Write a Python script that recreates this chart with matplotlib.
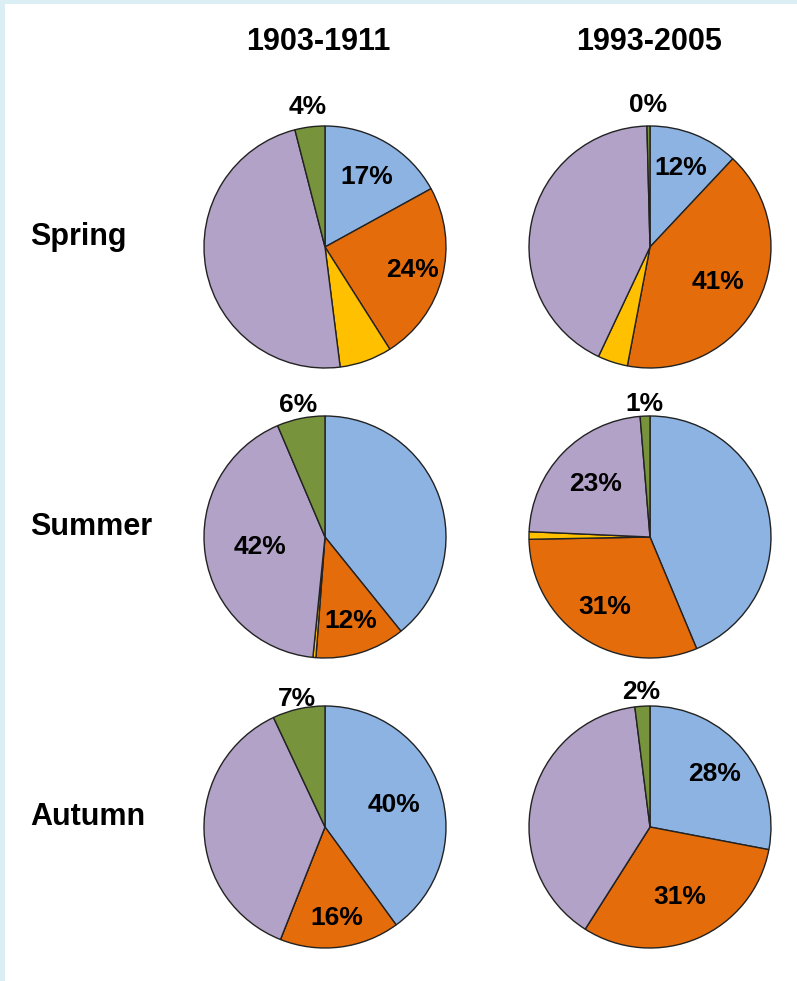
import matplotlib.pyplot as plt
import numpy as np

# wedge order, clockwise from 12 o'clock
colors = ['#8db3e2', '#e46c0a', '#ffc000', '#b3a2c7', '#77933c']

periods = ['1903-1911', '1993-2005']
seasons = ['Spring', 'Summer', 'Autumn']

# shares in percent: blue, orange, yellow, purple, green
spring_1903 = [17, 24, 7, 48, 4]
spring_1993 = [12, 41, 4, 42.6, 0.4]
summer_1903 = [39.2, 12, 0.4, 42, 6.4]
summer_1993 = [43.7, 31, 1, 23, 1.3]
autumn_1903 = [40, 16, 0, 37, 7]
autumn_1993 = [28, 31, 0, 39, 2]

shares = [[spring_1903, spring_1993],
          [summer_1903, summer_1993],
          [autumn_1903, autumn_1993]]

# which wedges get a percent label
labelled = [[[0, 1, 4], [0, 1, 4]],
            [[1, 3, 4], [1, 3, 4]],
            [[0, 1, 4], [0, 1, 4]]]

# radial position of each label, as a fraction of the radius
label_r = [[[0.67, 0.75, 1.17], [0.70, 0.63, 1.17]],
           [[0.73, 0.54, 1.11], [0.69, 0.63, 1.10]],
           [[0.60, 0.76, 1.08], [0.69, 0.63, 1.12]]]

W, H = 797, 981
col_x = [325, 650]
row_y = [247, 537, 827]
R = 121

fig = plt.figure(figsize=(W / 100, H / 100), dpi=100)
fig.patch.set_facecolor('#daeef3')
ax = fig.add_axes([0, 0, 1, 1])

font = ['Liberation Sans', 'DejaVu Sans']

for i, season in enumerate(seasons):
    cy = H - row_y[i]
    for j in range(len(periods)):
        cx = col_x[j]
        wedges, _ = ax.pie(shares[i][j], colors=colors, startangle=90,
                           counterclock=False, center=(cx, cy), radius=R,
                           wedgeprops=dict(edgecolor='#222222', linewidth=1.0))
        for k, idx in enumerate(labelled[i][j]):
            w = wedges[idx]
            mid = np.deg2rad((w.theta1 + w.theta2) / 2)
            r = label_r[i][j][k] * R
            ax.text(cx + r * np.cos(mid), cy + r * np.sin(mid),
                    f'{round(shares[i][j][idx])}%', ha='center', va='center',
                    fontsize=19, fontweight='bold', family=font, zorder=5)
    ax.text(30, cy + 10, season, ha='left', va='center',
            fontsize=22, fontweight='bold', family=font)

for j, period in enumerate(periods):
    ax.text([318, 649][j], H - 42, period, ha='center', va='center',
            fontsize=22, fontweight='bold', family=font)

# white panel inside the light blue frame
ax.add_patch(plt.Rectangle((5, 0), W - 5, H - 4, facecolor='white',
                           edgecolor='none', zorder=-10))

ax.set_xlim(0, W)
ax.set_ylim(0, H)
ax.set_aspect('equal')
ax.axis('off')

fig.savefig('out.png', dpi=100, facecolor=fig.get_facecolor())
